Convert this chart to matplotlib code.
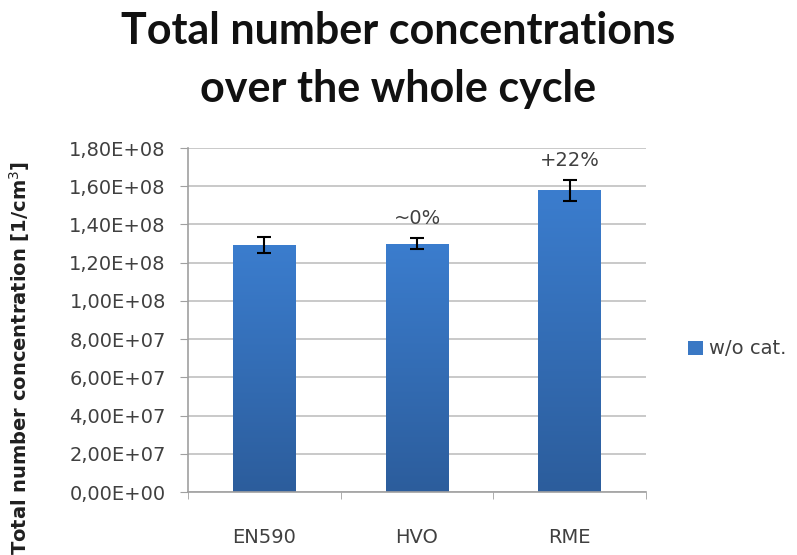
import matplotlib
matplotlib.use("Agg")
import matplotlib.pyplot as plt
import numpy as np
from matplotlib.ticker import FuncFormatter, FixedLocator
from matplotlib.colors import LinearSegmentedColormap

plt.rcParams['font.family'] = ['DejaVu Sans']

categories = ["EN590", "HVO", "RME"]
values = [1.29e8, 1.30e8, 1.58e8]
errors = [4.2e6, 2.8e6, 5.5e6]
annotations = ["", "~0%", "+22%"]
series_name = "w/o cat."
yticks = np.arange(0, 1.8e8 + 1, 2e7)

fig = plt.figure(figsize=(7.97, 5.55), dpi=100)
ax = fig.add_axes([188/797, 1 - 492/555, (646-188)/797, (492-148)/555])

x = np.arange(len(categories))
bars = ax.bar(x, values, width=0.41, color="#3a78c4", label=series_name, zorder=2)

# gradient fill
grad = np.linspace(0, 1, 256).reshape(-1, 1)
cmap = LinearSegmentedColormap.from_list("g", ["#2c5d9c", "#3b7dce"])
for b in bars:
    bx, by = b.get_x(), b.get_y()
    w, h = b.get_width(), b.get_height()
    im = ax.imshow(grad, extent=[bx, bx + w, by, by + h], aspect="auto",
                   cmap=cmap, origin="lower", zorder=2.1)
    im.set_clip_path(b)

ax.errorbar(x, values, yerr=errors, fmt="none", ecolor="black", elinewidth=1.5,
            capsize=5, capthick=1.5, zorder=3)

for xi, v, e, t in zip(x, values, errors, annotations):
    if t:
        ax.annotate(t, (xi, v + e), xytext=(0, 10), textcoords="offset points",
                    ha="center", va="baseline", fontsize=14, color="#404040")

ax.set_xlim(-0.5, 2.5)
ax.set_ylim(0, 1.8e8)
ax.yaxis.set_major_locator(FixedLocator(yticks))
ax.yaxis.set_major_formatter(FuncFormatter(lambda v, p: f"{v:.2E}".replace(".", ",")))
ax.set_xticks(x)
ax.set_xticklabels(categories, fontsize=14, color="#404040")
ax.xaxis.set_minor_locator(FixedLocator([-0.5, 0.5, 1.5, 2.5]))
ax.tick_params(axis="x", which="major", length=0, pad=26)
ax.tick_params(axis="x", which="minor", length=5, color="#a0a0a0")
ax.tick_params(axis="y", length=6, color="#a0a0a0", labelsize=14, labelcolor="#404040", pad=10)
ax.grid(axis="y", color="#c0c0c0", linewidth=1.2, zorder=0)
for s in ["top", "right"]:
    ax.spines[s].set_visible(False)
for s in ["left", "bottom"]:
    ax.spines[s].set_color("#a0a0a0")
    ax.spines[s].set_linewidth(1.2)

fig.text(20/797, 1 - 358/555, "Total number concentration [1/cm$^3$]", rotation=90,
         ha="center", va="center", fontsize=14, fontweight="bold", color="#202020")

fig.text(0.5, 1 - 44/555, "Total number concentrations", ha="center", va="baseline",
         fontsize=31, fontweight="bold", color="#111111", family="Lato")
fig.text(0.5, 1 - 102/555, "over the whole cycle", ha="center", va="baseline",
         fontsize=31, fontweight="bold", color="#111111", family="Lato")

ax.legend(loc="center left", bbox_to_anchor=(688/797, 1 - 349/555),
          bbox_transform=fig.transFigure, frameon=False, fontsize=14,
          handlelength=0.75, handleheight=0.75, handletextpad=0.35, labelcolor="#404040",
          borderaxespad=0, borderpad=0)

fig.savefig("out.png", dpi=100)
